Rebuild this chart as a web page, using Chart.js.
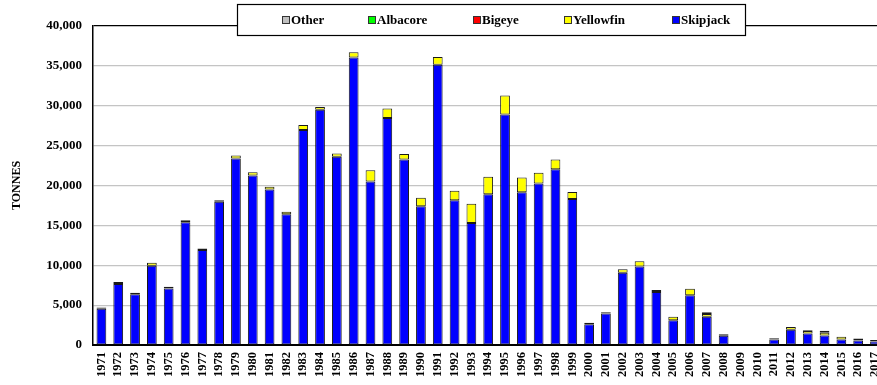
<!DOCTYPE html>
<html>
<head>
<meta charset="utf-8">
<script src="https://cdn.jsdelivr.net/npm/chart.js@4/dist/chart.umd.min.js"></script>
<style>
  html, body { margin: 0; padding: 0; background: #fff; overflow: hidden; }
  #wrap { width: 897px; height: 385px; }
</style>
</head>
<body>
<div id="wrap"><canvas id="catch-chart" width="897" height="385"></canvas></div>
<script>
// Catch by species, tonnes
const years = ['1971','1972','1973','1974','1975','1976','1977','1978','1979','1980',
  '1981','1982','1983','1984','1985','1986','1987','1988','1989','1990',
  '1991','1992','1993','1994','1995','1996','1997','1998','1999','2000',
  '2001','2002','2003','2004','2005','2006','2007','2008','2009','2010',
  '2011','2012','2013','2014','2015','2016','2017'];

const skipjack = [4550, 7650, 6350, 9950, 7100, 15400, 11900, 17950, 23400, 21250,
  19500, 16400, 26950, 29500, 23600, 36050, 20500, 28450, 23250, 17400,
  35150, 18150, 15300, 18900, 28900, 19150, 20250, 22050, 18300, 2600,
  3950, 9050, 9850, 6650, 3100, 6250, 3550, 1150, 0, 0,
  700, 1900, 1450, 1200, 700, 550, 450];

const yellowfin = [150, 250, 200, 350, 200, 250, 200, 200, 350, 400,
  350, 300, 650, 350, 400, 650, 1400, 1200, 700, 1050,
  950, 1200, 2400, 2200, 2400, 1850, 1350, 1200, 900, 200,
  150, 450, 650, 250, 450, 800, 350, 100, 0, 0,
  150, 350, 300, 350, 350, 200, 180];

const bigeye = [0, 0, 0, 0, 0, 0, 0, 0, 0, 0,
  0, 0, 0, 0, 0, 0, 0, 0, 0, 0,
  0, 0, 0, 0, 0, 0, 0, 0, 0, 0,
  0, 0, 0, 0, 0, 0, 0, 0, 0, 0,
  0, 0, 0, 0, 0, 0, 0];

const albacore = [0, 0, 0, 0, 0, 0, 0, 0, 0, 0,
  0, 0, 0, 0, 0, 0, 0, 0, 0, 0,
  0, 0, 0, 0, 0, 0, 0, 0, 0, 0,
  0, 0, 0, 0, 0, 0, 0, 0, 0, 0,
  0, 0, 0, 0, 0, 0, 0];

const other = [0, 0, 0, 0, 0, 0, 0, 0, 0, 0,
  0, 0, 0, 0, 0, 0, 0, 0, 0, 0,
  0, 0, 0, 0, 0, 0, 0, 0, 0, 0,
  0, 0, 0, 0, 0, 0, 200, 100, 0, 0,
  0, 0, 100, 250, 0, 50, 0];

const yTicks = [0, 5000, 10000, 15000, 20000, 25000, 30000, 35000, 40000];

const serif = "'Liberation Serif', 'Times New Roman', serif";

// zero segments are left out so they don't draw stray borders
function clean(arr) {
    return arr.map(v => v === 0 ? null : v);
}

function makeSet(label, data, color) {
    return {
        label: label,
        data: clean(data),
        backgroundColor: color,
        borderColor: '#1a1a1a',
        borderWidth: 1,
        borderSkipped: false,
        barPercentage: 0.58,
        categoryPercentage: 1.0
    };
}

// boxed legend drawn over the top of the plot, like the original
const boxLegend = {
    id: 'boxLegend',
    afterDraw(chart) {
        const ctx = chart.ctx;
        const items = chart.data.datasets.slice().reverse();
        const xs = [282, 368, 473, 564, 672];
        ctx.save();
        ctx.fillStyle = '#fff';
        ctx.fillRect(237.5, 4.5, 508, 31);
        ctx.strokeStyle = '#000';
        ctx.lineWidth = 1.2;
        ctx.strokeRect(237.5, 4.5, 508, 31);
        ctx.font = 'bold 13px ' + serif;
        ctx.textBaseline = 'middle';
        items.forEach((ds, i) => {
            ctx.fillStyle = ds.backgroundColor;
            ctx.fillRect(xs[i] + 0.5, 16.5, 7, 7);
            ctx.strokeStyle = '#333';
            ctx.lineWidth = 1;
            ctx.strokeRect(xs[i] + 0.5, 16.5, 7, 7);
            ctx.fillStyle = '#000';
            ctx.fillText(ds.label, xs[i] + 9, 20.5);
        });
        ctx.restore();
    }
};

const ctx = document.getElementById('catch-chart').getContext('2d');
const catchChart = new Chart(ctx, {
    type: 'bar',
    data: {
        labels: years,
        datasets: [
            makeSet('Skipjack', skipjack, '#0000ff'),
            makeSet('Yellowfin', yellowfin, '#ffff00'),
            makeSet('Bigeye', bigeye, '#ff0000'),
            makeSet('Albacore', albacore, '#00ff00'),
            makeSet('Other', other, '#c0c0c0')
        ]
    },
    options: {
        responsive: false,
        animation: false,
        layout: { padding: { left: 0, right: 0, top: 26, bottom: 0 } },
        plugins: {
            legend: { display: false },
            tooltip: { enabled: false }
        },
        scales: {
            x: {
                stacked: true,
                grid: { display: false, drawTicks: false },
                border: { color: '#000', width: 2 },
                ticks: {
                    color: '#000',
                    autoSkip: false,
                    minRotation: 90,
                    maxRotation: 90,
                    padding: 7,
                    font: { family: serif, size: 12.5, weight: 'bold' }
                },
                afterFit(scale) { scale.height = 40; }
            },
            y: {
                stacked: true,
                min: 0,
                max: 40000,
                afterBuildTicks(scale) {
                    scale.ticks = yTicks.map(v => ({ value: v }));
                },
                grid: {
                    drawTicks: false,
                    color: c => c.tick && c.tick.value === 40000 ? '#000' : '#c4c4c4',
                    lineWidth: c => c.tick && c.tick.value === 40000 ? 1.3 : 1.2
                },
                border: { color: '#000', width: 1.5 },
                ticks: {
                    color: '#000',
                    padding: 11,
                    font: { family: serif, size: 13, weight: 'bold' },
                    callback: v => v.toLocaleString('en-US')
                },
                title: {
                    display: true,
                    text: 'TONNES',
                    color: '#000',
                    padding: { top: 10, bottom: 0 },
                    font: { family: serif, size: 12, weight: 'bold' }
                },
                afterFit(scale) { scale.width = 93; }
            }
        }
    },
    plugins: [boxLegend]
});
</script>
</body>
</html>
